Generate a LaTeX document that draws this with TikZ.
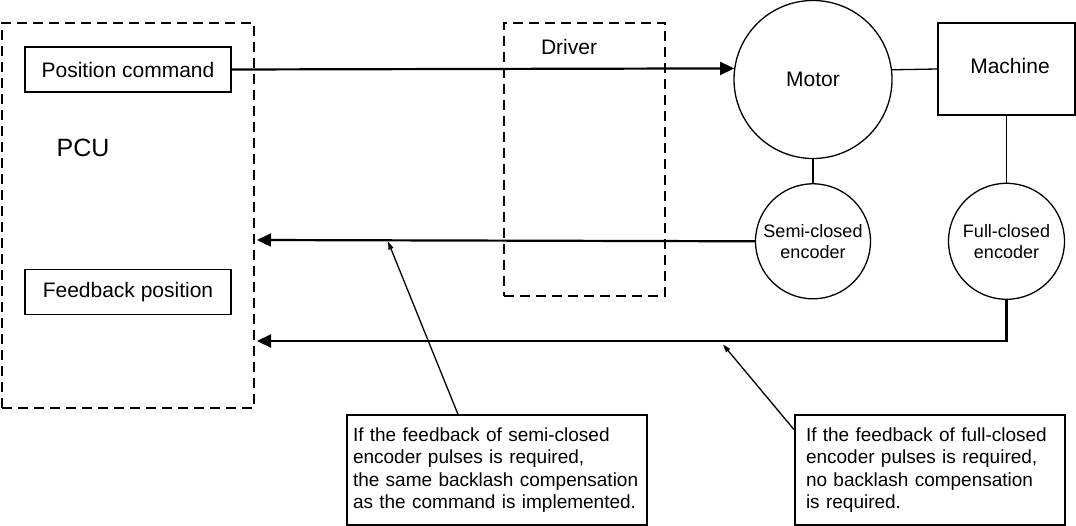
\documentclass[tikz,border=0pt]{standalone}
\usepackage{fontspec}
\setmainfont{Liberation Sans}
\usepackage{tikz}
\usetikzlibrary{arrows.meta, positioning}

\begin{document}
\begin{tikzpicture}[
  x=1pt, y=-1pt,
  font=\fontsize{21}{24}\selectfont,
  box/.style={draw, line width=1.3pt, inner sep=0pt, minimum width=206pt, minimum height=45pt},
  group/.style={draw, dashed, line width=2pt, dash pattern=on 10pt off 6pt, inner sep=0pt},
  unit/.style={draw, circle, line width=1.3pt, inner sep=0pt, align=center},
  enc/.style={unit, minimum size=115pt, font=\fontsize{18}{21}\selectfont},
  note/.style={draw, line width=1.3pt, align=left, minimum height=110pt, font=\fontsize{19}{22.5}\selectfont, execute at begin node={\hyphenpenalty=10000\relax}},
  signal/.style={-{Triangle[length=14pt,width=13pt]}, line width=2.2pt},
  pointer/.style={-{Triangle[length=8pt,width=5pt]}, line width=1.3pt},
  link/.style={line width=1.3pt}
]
\path[use as bounding box] (0,0) rectangle (1076,526);

% PCU
\node[group, minimum width=252pt, minimum height=385pt] (pcu) at (128,215.5) {};
\node[box] (poscmd) at (128,69.5) {Position command};
\node[box, below=176pt of poscmd] (fbpos) {Feedback position};
\node[font=\fontsize{25}{28}\selectfont] (pcutxt) at (83,148) {PCU};

% DRIVER
\node[group, minimum width=161pt, minimum height=273pt] (drv) at (584.5,159.5) {};
\node (drvtxt) at (569,47) {Driver};

% MOTOR AND MACHINE
\node[unit, minimum size=158pt] (motor) at (813,79.5) {Motor};
\node[draw, line width=1.3pt, minimum width=137pt, minimum height=92pt] (machine) at (1006.5,69) {};
\node (machtxt) at (1010,66) {Machine};
\node[enc, below=24pt of motor] (semienc) {Semi-closed\\encoder};
\node[enc, minimum size=116pt, below=67pt of machine] (fullenc) {Full-closed\\encoder};

\draw[signal] (poscmd.east) -- (motor.172.7);
\draw[link] (motor.7.6) -- (machine.west);
\draw[link] (motor.south) -- (semienc.north);
\draw[link] (machine.south) -- (fullenc.north);

% FEEDBACK
\coordinate (fbin1) at (257,240);
\coordinate (fbin2) at (257,341);
\draw[signal] (semienc.west) -- (fbin1);
\draw[signal] (fullenc.south) |- (fbin2);

% NOTES
\node[note, text width=288pt, inner xsep=6pt] (note1) at (497,470) {If the feedback of semi-closed\\encoder pulses is required,\\the same backlash compensation\\as the command is implemented.};
\node[note, text width=248pt, inner xsep=11pt] (note2) at (930,470) {If the feedback of full-closed\\encoder pulses is required,\\no backlash compensation\\is required.};
\coordinate (tip1) at (388,241.5);
\coordinate (tip2) at (723,344.5);
\draw[pointer] ([xshift=-39pt]note1.north) -- (tip1);
\draw[pointer] ([yshift=40pt]note2.west) -- (tip2);

\end{tikzpicture}
\end{document}
